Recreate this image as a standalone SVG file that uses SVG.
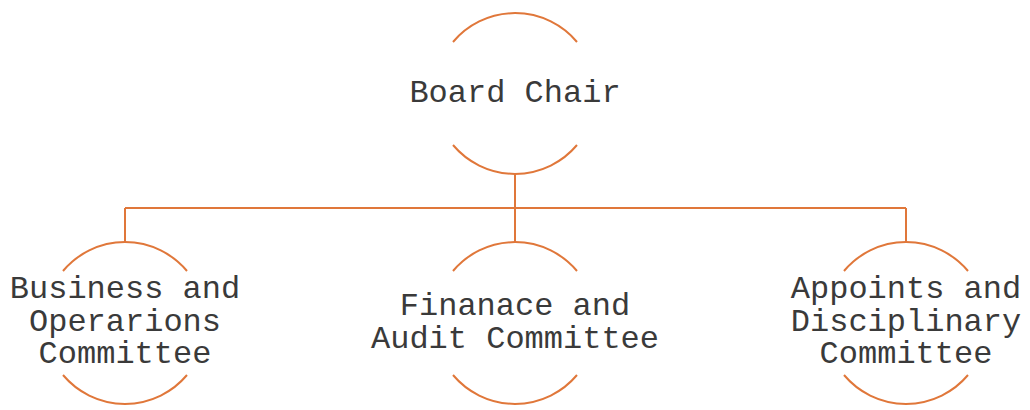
<svg xmlns="http://www.w3.org/2000/svg" width="1030" height="410" viewBox="0 0 1030 410">
<style>
.arc{fill:none;stroke:#E0773A;stroke-width:2}
.conn{fill:none;stroke:#E0773A;stroke-width:2}
text{font-family:"Liberation Mono","Courier New",monospace;font-size:32px;fill:#3a3a3a;text-anchor:middle}
</style>
<rect width="1030" height="410" fill="#ffffff"/>
<g id="connectors">
<path class="conn" d="M515,175 V208 M125,208 H906 M125,208 V242 M515,208 V242 M906,208 V242"/>
</g>
<g id="board-chair">
<path class="arc" d="M453,42 A81,81 0 0 1 577,42 M453,145 A81,81 0 0 0 577,145"/>
<text x="515" y="102">Board Chair</text>
</g>
<g id="business-operations">
<path class="arc" d="M63,271 A81,81 0 0 1 187,271 M63,375 A81,81 0 0 0 187,375"/>
<text x="125" y="298">Business and</text>
<text x="125" y="331">Operarions</text>
<text x="125" y="363">Committee</text>
</g>
<g id="finance-audit">
<path class="arc" d="M453,271 A81,81 0 0 1 577,271 M453,375 A81,81 0 0 0 577,375"/>
<text x="515" y="315">Finanace and</text>
<text x="515" y="348">Audit Committee</text>
</g>
<g id="appoints-disciplinary">
<path class="arc" d="M844,271 A81,81 0 0 1 968,271 M844,375 A81,81 0 0 0 968,375"/>
<text x="906" y="298">Appoints and</text>
<text x="906" y="331">Disciplinary</text>
<text x="906" y="363">Committee</text>
</g>
</svg>
